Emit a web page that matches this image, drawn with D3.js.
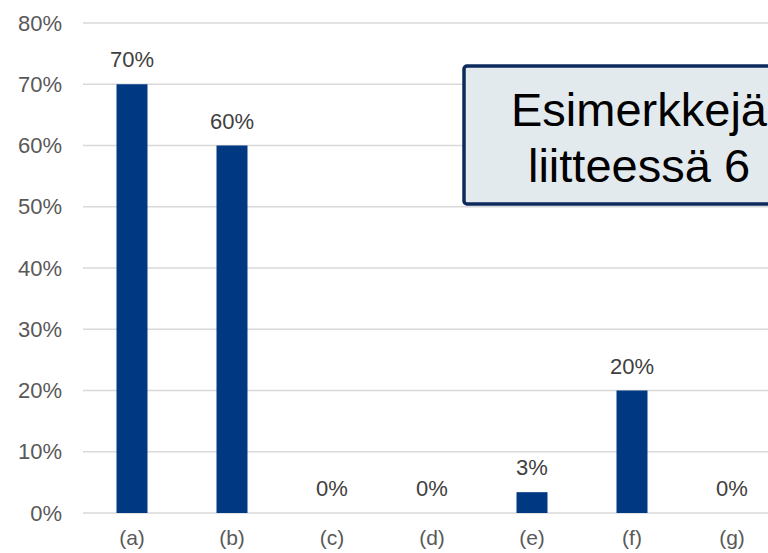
<!DOCTYPE html>
<html>
<head>
<meta charset="utf-8">
<script src="https://cdn.jsdelivr.net/npm/d3@7"></script>
<style>
  body { margin: 0; background: #fff; }
  svg { display: block; font-family: "Liberation Sans", Arial, sans-serif; }
</style>
</head>
<body>
<svg id="chart" width="768" height="553"></svg>
<script>
// chart data
const categories = ['(a)', '(b)', '(c)', '(d)', '(e)', '(f)', '(g)'];
const values = [70, 60, 0, 0, 3.4, 20, 0];
const valueLabels = ['70%', '60%', '0%', '0%', '3%', '20%', '0%'];
const yTicks = [0, 10, 20, 30, 40, 50, 60, 70, 80];
const calloutLines = ['Esimerkkejä', 'liitteessä 6'];

const svg = d3.select('#chart');

const x = d3.scaleBand()
  .domain(categories)
  .range([82, 782])
  .paddingInner(0.69)
  .paddingOuter(0.345);

const y = d3.scaleLinear()
  .domain([0, 80])
  .range([513, 23]);

// gridlines
svg.append('g')
  .selectAll('line')
  .data(yTicks)
  .join('line')
  .attr('x1', 83)
  .attr('x2', 768)
  .attr('y1', d => y(d))
  .attr('y2', d => y(d))
  .attr('stroke', '#d9d9d9')
  .attr('stroke-width', 1.5);

// y axis labels
const yAxis = svg.append('g')
  .attr('transform', 'translate(83,0)')
  .call(d3.axisLeft(y).tickValues(yTicks).tickFormat(d => d + '%').tickSize(0).tickPadding(21));
yAxis.select('.domain').remove();
yAxis.selectAll('text')
  .attr('fill', '#595959')
  .style('font-size', '22px')
  .style('font-family', '"Liberation Sans", Arial, sans-serif');

// x axis labels
const xAxis = svg.append('g')
  .attr('transform', 'translate(0,513)')
  .call(d3.axisBottom(x).tickSize(0).tickPadding(17));
xAxis.select('.domain').remove();
xAxis.selectAll('text')
  .attr('fill', '#595959')
  .style('font-size', '21px')
  .style('font-family', '"Liberation Sans", Arial, sans-serif');

// bars
svg.append('g')
  .selectAll('rect')
  .data(values)
  .join('rect')
  .attr('x', (d, i) => x(categories[i]))
  .attr('y', d => y(d))
  .attr('width', x.bandwidth())
  .attr('height', d => y(0) - y(d))
  .attr('fill', '#003882');

// value labels
svg.append('g')
  .selectAll('text')
  .data(values)
  .join('text')
  .attr('x', (d, i) => x(categories[i]) + x.bandwidth() / 2)
  .attr('y', d => y(d) - 17)
  .attr('text-anchor', 'middle')
  .attr('fill', '#404040')
  .style('font-size', '22px')
  .text((d, i) => valueLabels[i]);

// callout box
const callout = svg.append('g');
callout.append('rect')
  .attr('x', 464)
  .attr('y', 66)
  .attr('width', 360)
  .attr('height', 138)
  .attr('rx', 3)
  .attr('fill', '#e3eaee')
  .attr('stroke', '#0e2a5c')
  .attr('stroke-width', 3.5);
callout.selectAll('text')
  .data(calloutLines)
  .join('text')
  .attr('x', 639)
  .attr('y', (d, i) => 126 + i * 56)
  .attr('text-anchor', 'middle')
  .attr('fill', '#000')
  .style('font-size', '47px')
  .text(d => d);
</script>
</body>
</html>
